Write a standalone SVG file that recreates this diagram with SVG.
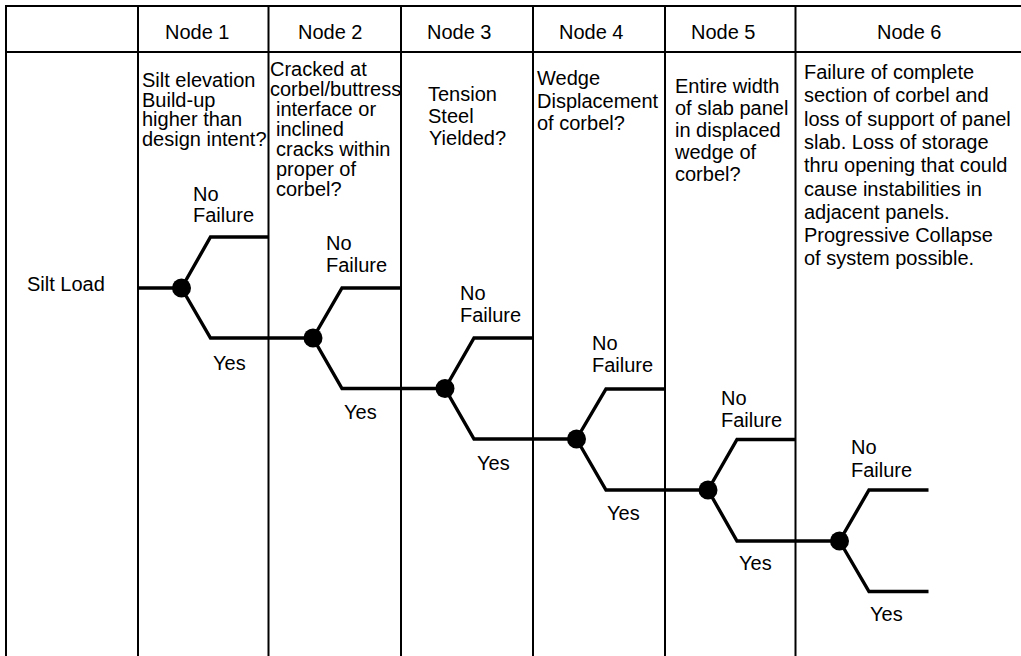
<svg xmlns="http://www.w3.org/2000/svg" width="1021" height="656" viewBox="0 0 1021 656">
  <style>
    text { font-family: "Liberation Sans", Arial, sans-serif; font-size: 20px; fill: #000; }
    .grid { stroke: #000; stroke-width: 2; fill: none; }
    .branch { stroke: #000; stroke-width: 3.4; fill: none; stroke-linejoin: miter; }
    .dot { fill: #000; }
  </style>
  <rect width="1021" height="656" fill="#fff"/>

  <!-- table frame and column rules -->
  <g id="table" class="grid">
    <path d="M6 6 H1021 M6 52 H1021 M6 5 V656"/>
    <path d="M138 5 V656 M268.5 5 V656 M401 5 V656 M533 5 V656 M665 5 V656 M795.5 5 V656"/>
  </g>

  <!-- column headings -->
  <g id="headers">
    <text x="165" y="38.5">Node 1</text>
    <text x="298" y="38.5">Node 2</text>
    <text x="427" y="38.5">Node 3</text>
    <text x="559" y="38.5">Node 4</text>
    <text x="691" y="38.5">Node 5</text>
    <text x="877" y="38.5">Node 6</text>
  </g>

  <!-- event questions -->
  <g id="q1">
    <text x="142" y="87">Silt elevation</text>
    <text x="142" y="106.5">Build-up</text>
    <text x="142" y="126">higher than</text>
    <text x="142" y="145.5">design intent?</text>
  </g>
  <g id="q2">
    <text x="270" y="76">Cracked at</text>
    <text x="270" y="96">corbel/buttress</text>
    <text x="276" y="116">interface or</text>
    <text x="276" y="136">inclined</text>
    <text x="276" y="156">cracks within</text>
    <text x="276" y="176">proper of</text>
    <text x="276" y="196">corbel?</text>
  </g>
  <g id="q3">
    <text x="428" y="101">Tension</text>
    <text x="428" y="123">Steel</text>
    <text x="429" y="145">Yielded?</text>
  </g>
  <g id="q4">
    <text x="537" y="85">Wedge</text>
    <text x="537" y="107.5">Displacement</text>
    <text x="537" y="130">of corbel?</text>
  </g>
  <g id="q5">
    <text x="675" y="93">Entire width</text>
    <text x="675" y="115">of slab panel</text>
    <text x="675" y="137">in displaced</text>
    <text x="675" y="159">wedge of</text>
    <text x="675" y="181">corbel?</text>
  </g>
  <g id="q6">
    <text x="804" y="79">Failure of complete</text>
    <text x="804" y="102.3">section of corbel and</text>
    <text x="804" y="125.6">loss of support of panel</text>
    <text x="804" y="148.9">slab. Loss of storage</text>
    <text x="804" y="172.2">thru opening that could</text>
    <text x="804" y="195.5">cause instabilities in</text>
    <text x="804" y="218.8">adjacent panels.</text>
    <text x="804" y="242.1">Progressive Collapse</text>
    <text x="804" y="265.4">of system possible.</text>
  </g>

  <g id="start">
    <text x="27" y="291">Silt Load</text>
  </g>

  <!-- event tree branches -->
  <g id="connectors" class="branch">
    <path d="M138 288 H181.5"/>
    <path d="M181.5 288 L210.5 237 H268.5 M181.5 288 L210.5 338 H313"/>
    <path d="M313 338 L342 288 H401 M313 338 L342 388.5 H445"/>
    <path d="M445 388.5 L474 338 H533 M445 388.5 L474 439 H576.5"/>
    <path d="M576.5 439 L606 389 H665 M576.5 439 L606 490 H708"/>
    <path d="M708 490 L737 439.5 H795.5 M708 490 L737 541 H839.5"/>
    <path d="M839.5 541 L869 490 H928.5 M839.5 541 L869 591.5 H928.5"/>
  </g>

  <!-- decision junctions -->
  <g id="junction1"><circle class="dot" cx="181.5" cy="288" r="9.5"/></g>
  <g id="junction2"><circle class="dot" cx="313" cy="338" r="9.5"/></g>
  <g id="junction3"><circle class="dot" cx="445" cy="388.5" r="9.5"/></g>
  <g id="junction4"><circle class="dot" cx="576.5" cy="439" r="9.5"/></g>
  <g id="junction5"><circle class="dot" cx="708" cy="490" r="9.5"/></g>
  <g id="junction6"><circle class="dot" cx="839.5" cy="541" r="9.5"/></g>

  <!-- branch outcome labels -->
  <g id="labels">
    <text x="193" y="201">No</text>
    <text x="193" y="222">Failure</text>
    <text x="213" y="370">Yes</text>

    <text x="326" y="250">No</text>
    <text x="326" y="272">Failure</text>
    <text x="344" y="419">Yes</text>

    <text x="460" y="300">No</text>
    <text x="460" y="322">Failure</text>
    <text x="477" y="470">Yes</text>

    <text x="592" y="350">No</text>
    <text x="592" y="372">Failure</text>
    <text x="607" y="520">Yes</text>

    <text x="721" y="405">No</text>
    <text x="721" y="427">Failure</text>
    <text x="739" y="570">Yes</text>

    <text x="851" y="454">No</text>
    <text x="851" y="477">Failure</text>
    <text x="870" y="621">Yes</text>
  </g>
</svg>
